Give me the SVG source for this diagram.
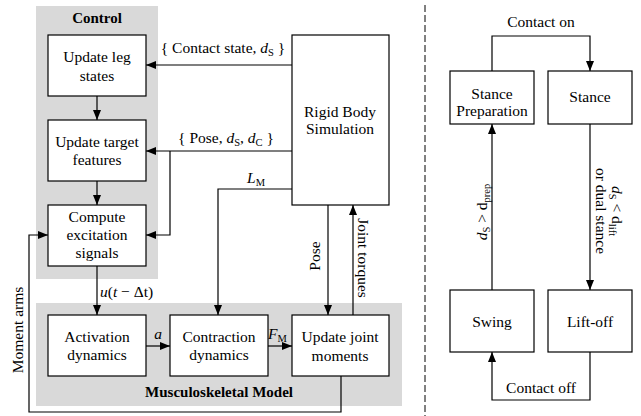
<svg xmlns="http://www.w3.org/2000/svg" width="641" height="416" viewBox="0 0 641 416" font-family="Liberation Serif, Times New Roman, serif">
<style>
text{font-family:'Liberation Serif','Times New Roman',serif;font-size:15.5px;fill:#000}
.c{text-anchor:middle}
.b{font-weight:bold;font-size:15px}
.i{font-style:italic}
.s{font-size:10.5px}
.box{fill:#fff;stroke:#000;stroke-width:1.2}
.panel{fill:#d9d9d9}
.ar{fill:none;stroke:#000;stroke-width:1.2;marker-end:url(#ah)}
</style>
<defs>
<marker id="ah" viewBox="0 0 10 8" refX="10" refY="4" markerWidth="10" markerHeight="8" markerUnits="userSpaceOnUse" orient="auto">
<path d="M0,0 L10,4 L0,8 z" fill="#000"/>
</marker>
</defs>
<rect width="641" height="416" fill="#fff"/>
<g id="panels">
<rect class="panel" x="36" y="6" width="122" height="273"/>
<rect class="panel" x="36" y="303" width="366" height="103"/>
<text class="c b" x="97" y="23">Control</text>
<text class="c b" x="219" y="397">Musculoskeletal Model</text>
</g>
<g id="connectors">
<line class="ar" x1="97" y1="96" x2="97" y2="120"/>
<line class="ar" x1="97" y1="181" x2="97" y2="205"/>
<line class="ar" x1="292" y1="65" x2="146" y2="65"/>
<line class="ar" x1="292" y1="151" x2="146" y2="151"/>
<polyline class="ar" points="170,151 170,235 146,235"/>
<polyline class="ar" points="292,189 218,189 218,315"/>
<line class="ar" x1="97" y1="266" x2="97" y2="315"/>
<line class="ar" x1="146" y1="346" x2="170" y2="346"/>
<line class="ar" x1="268" y1="346" x2="292" y2="346"/>
<line class="ar" x1="328" y1="205" x2="328" y2="315"/>
<line class="ar" x1="353" y1="315" x2="353" y2="205"/>
<polyline class="ar" points="341,376 341,412 29,412 29,235 48,235"/>
<polyline class="ar" points="492,71 492,36 590,36 590,71"/>
<line class="ar" x1="590" y1="124" x2="590" y2="290"/>
<line class="ar" x1="492" y1="290" x2="492" y2="124"/>
<polyline class="ar" points="590,352 590,400 492,400 492,352"/>
<line x1="425" y1="5" x2="425" y2="416" stroke="#000" stroke-width="1" stroke-dasharray="7,3"/>
<text class="c" x="223" y="53">{ Contact state, <tspan class="i">d</tspan><tspan class="s" dy="3">S</tspan><tspan dy="-3"> }</tspan></text>
<text class="c" x="226" y="143">{ Pose, <tspan class="i">d</tspan><tspan class="s" dy="3">S</tspan><tspan dy="-3">, </tspan><tspan class="i">d</tspan><tspan class="s" dy="3">C</tspan><tspan dy="-3"> }</tspan></text>
<text class="c" x="256" y="183"><tspan class="i">L</tspan><tspan class="s" dy="3">M</tspan></text>
<text x="100" y="297"><tspan class="i">u</tspan>(<tspan class="i">t</tspan> − Δt)</text>
<text class="c i" x="158" y="339">a</text>
<text x="268" y="339"><tspan class="i">F</tspan><tspan class="s" dy="3">M</tspan></text>
<text class="c" transform="translate(320,256) rotate(-90)">Pose</text>
<text class="c" transform="translate(358,258) rotate(90)">Joint torques</text>
<text class="c" transform="translate(23,330) rotate(-90)">Moment arms</text>
<text class="c" x="541" y="27">Contact on</text>
<text class="c" x="541" y="393">Contact off</text>
<text class="c" transform="translate(487,212) rotate(-90)"><tspan class="i">d</tspan><tspan class="s" dy="3">S</tspan><tspan dy="-3"> &gt; d</tspan><tspan class="s" dy="3">prep</tspan></text>
<text class="c" transform="translate(612,211) rotate(90)"><tspan x="0" y="0"><tspan class="i">d</tspan><tspan class="s" dy="3">S</tspan><tspan dy="-3"> &lt; d</tspan><tspan class="s" dy="3">lift</tspan></tspan><tspan x="0" y="16">or dual stance</tspan></text>
</g>
<g id="n_leg"><rect class="box" x="48" y="35" width="98" height="61"/><text class="c" x="97" y="62">Update leg</text><text class="c" x="97" y="81">states</text></g>
<g id="n_target"><rect class="box" x="48" y="120" width="98" height="61"/><text class="c" x="97" y="147">Update target</text><text class="c" x="97" y="165">features</text></g>
<g id="n_excite"><rect class="box" x="48" y="205" width="98" height="61"/><text class="c" x="97" y="222">Compute</text><text class="c" x="97" y="240">excitation</text><text class="c" x="97" y="258">signals</text></g>
<g id="n_rigid"><rect class="box" x="292" y="35" width="97" height="170"/><text class="c" x="340" y="117">Rigid Body</text><text class="c" x="340" y="134">Simulation</text></g>
<g id="n_activation"><rect class="box" x="48" y="315" width="98" height="61"/><text class="c" x="97" y="342">Activation</text><text class="c" x="97" y="360">dynamics</text></g>
<g id="n_contraction"><rect class="box" x="170" y="315" width="98" height="61"/><text class="c" x="219" y="342">Contraction</text><text class="c" x="219" y="360">dynamics</text></g>
<g id="n_joint"><rect class="box" x="292" y="315" width="97" height="61"/><text class="c" x="340" y="342">Update joint</text><text class="c" x="340" y="361">moments</text></g>
<g id="n_stanceprep"><rect class="box" x="450" y="71" width="84" height="53"/><text class="c" x="492" y="99">Stance</text><text class="c" x="492" y="116">Preparation</text></g>
<g id="n_stance"><rect class="box" x="548" y="71" width="84" height="53"/><text class="c" x="590" y="102">Stance</text></g>
<g id="n_swing"><rect class="box" x="450" y="290" width="84" height="62"/><text class="c" x="492" y="327">Swing</text></g>
<g id="n_liftoff"><rect class="box" x="548" y="290" width="84" height="62"/><text class="c" x="590" y="327">Lift-off</text></g>
</svg>
